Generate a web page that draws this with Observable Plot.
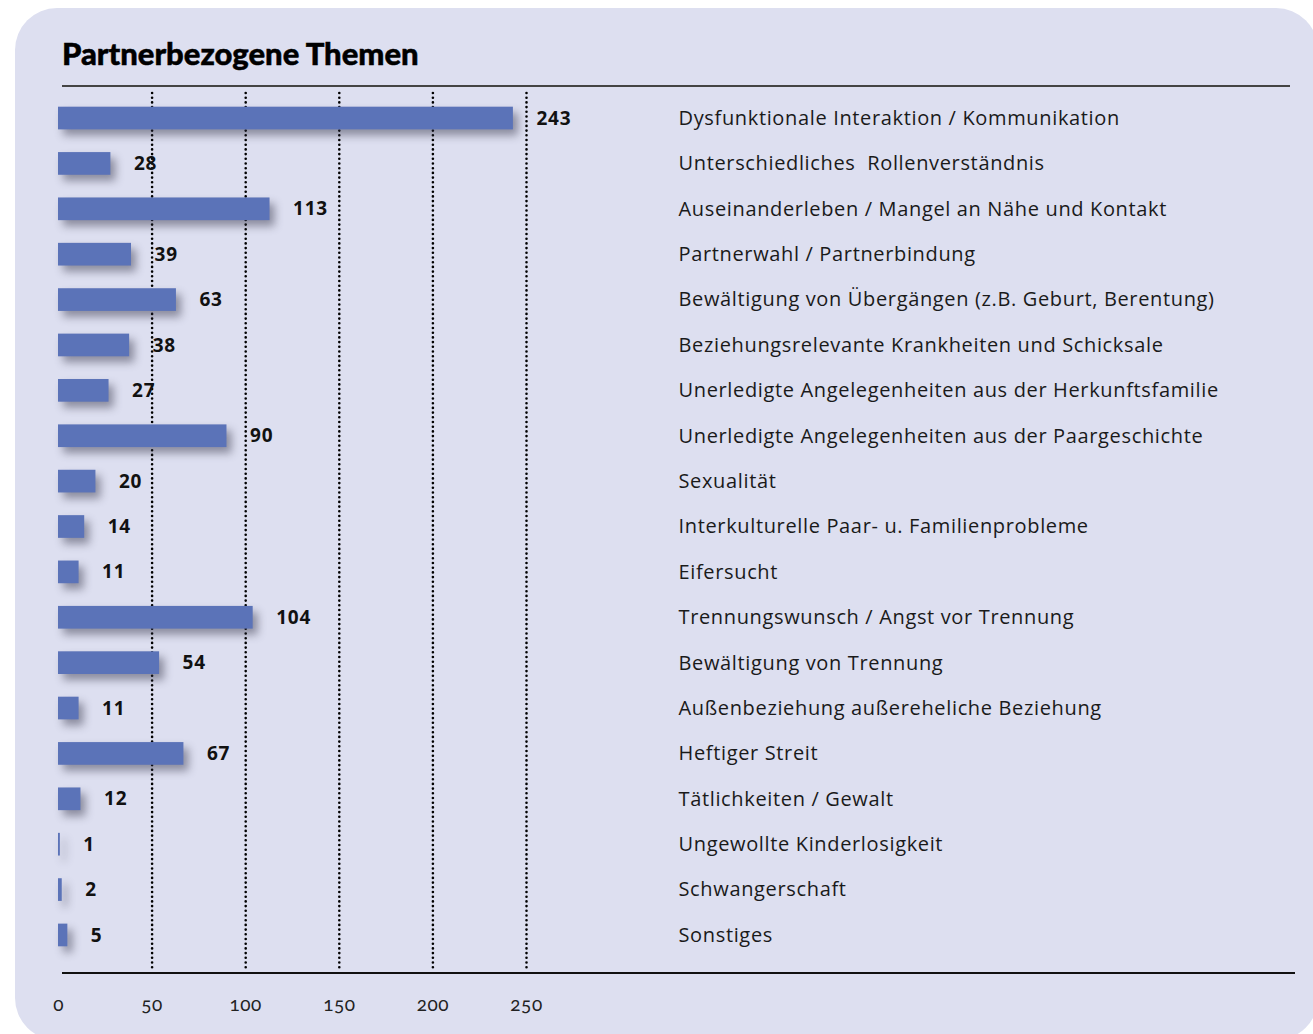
<!DOCTYPE html>
<html>
<head>
<meta charset="utf-8">
<script src="https://cdn.jsdelivr.net/npm/d3@7"></script>
<script src="https://cdn.jsdelivr.net/npm/@observablehq/plot@0.6"></script>
<style>
  html, body { margin:0; padding:0; background:#fff; }
  body { width:1313px; height:1034px; overflow:hidden; position:relative; font-family: "Open Sans", Lato, sans-serif; }
  #panel { position:absolute; left:15px; top:8px; width:1303px; height:1032px; background:#dddff0; border-radius:42px; }
  #title { position:absolute; left:62px; top:34px; font-family: "Lato Black", Lato, sans-serif; font-weight:900; font-size:31px; color:#000; margin:0; letter-spacing:0px; -webkit-text-stroke:0.5px #000; }
  #topline { position:absolute; left:62px; top:85px; width:1228px; height:2px; background:#444; z-index:2; }
  #bottomline { position:absolute; left:62px; top:972px; width:1233px; height:2px; background:#111; z-index:2; }
  #chart { position:absolute; left:0; top:80px; }
</style>
</head>
<body>
<div id="panel"></div>
<h2 id="title">Partnerbezogene Themen</h2>
<div id="topline"></div>
<div id="bottomline"></div>
<div id="chart"></div>
<script>
const categories = [
  "Dysfunktionale Interaktion / Kommunikation",
  "Unterschiedliches  Rollenverständnis",
  "Auseinanderleben / Mangel an Nähe und Kontakt",
  "Partnerwahl / Partnerbindung",
  "Bewältigung von Übergängen (z.B. Geburt, Berentung)",
  "Beziehungsrelevante Krankheiten und Schicksale",
  "Unerledigte Angelegenheiten aus der Herkunftsfamilie",
  "Unerledigte Angelegenheiten aus der Paargeschichte",
  "Sexualität",
  "Interkulturelle Paar- u. Familienprobleme",
  "Eifersucht",
  "Trennungswunsch / Angst vor Trennung",
  "Bewältigung von Trennung",
  "Außenbeziehung außereheliche Beziehung",
  "Heftiger Streit",
  "Tätlichkeiten / Gewalt",
  "Ungewollte Kinderlosigkeit",
  "Schwangerschaft",
  "Sonstiges"
];
const values = [243, 28, 113, 39, 63, 38, 27, 90, 20, 14, 11, 104, 54, 11, 67, 12, 1, 2, 5];
const tickValues = [0, 50, 100, 150, 200, 250];
const gridValues = [50, 100, 150, 200, 250];

const data = categories.map((c, i) => ({cat: c, value: values[i]}));

const chart = Plot.plot({
  width: 1313,
  height: 954,
  marginLeft: 58,
  marginRight: 787,
  marginTop: 4,
  marginBottom: 65,
  style: {background: "transparent", fontFamily: "'Open Sans', Lato, sans-serif", color: "#111"},
  x: {domain: [0, 250], axis: null},
  y: {domain: categories, axis: null, padding: 0.5, round: false},
  marks: [
    Plot.ruleX(gridValues, {stroke: "#000", strokeWidth: 2.6, strokeDasharray: "0,4.7", strokeLinecap: "round", insetTop: 9}),
    Plot.barX(data, {x: "value", y: "cat", fill: "#5b73b8"}),
    Plot.text(data, {x: "value", y: "cat", text: d => String(d.value), dx: 23, textAnchor: "start", fontWeight: "bold", fontSize: 19, fill: "#111"}),
    Plot.text(data, {y: "cat", text: "cat", frameAnchor: "right", dx: 152, textAnchor: "start", fontSize: 20, fill: "#1a1a1a"}),
    Plot.axisX(tickValues, {tickSize: 0, tickPadding: 28, fontSize: 19, fill: "#222", label: null, fontFamily: "Lato, sans-serif"})
  ]
});
document.getElementById("chart").appendChild(chart);
d3.select(chart).selectAll('g[aria-label="bar"]').style("filter", "drop-shadow(5px 6px 4px rgba(40,40,60,0.45))");
const texts = d3.select(chart).selectAll('g[aria-label="text"]');
d3.select(texts.nodes()[0]).style("letter-spacing", "0.8px");
d3.select(texts.nodes()[1]).style("letter-spacing", "0.65px");
d3.select(chart).selectAll('g[aria-label="x-axis tick label"]').style("font-variant-numeric", "oldstyle-nums").style("letter-spacing", "0.5px");
</script>
</body>
</html>
